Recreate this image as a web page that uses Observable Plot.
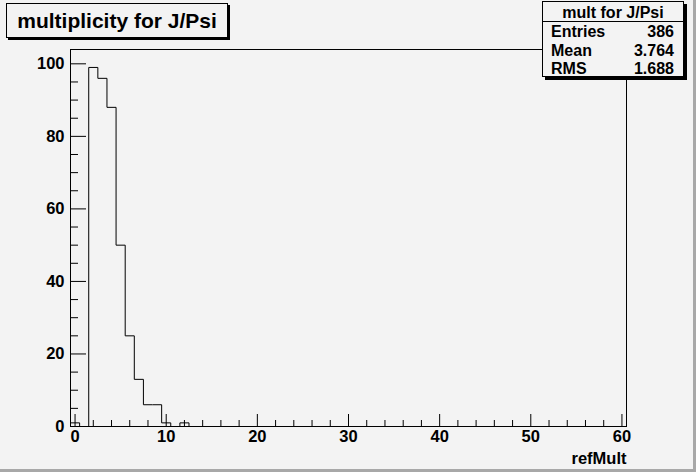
<!DOCTYPE html>
<html>
<head>
<meta charset="utf-8">
<script src="https://cdn.jsdelivr.net/npm/d3@7"></script>
<script src="https://cdn.jsdelivr.net/npm/@observablehq/plot@0.6"></script>
<style>
  html, body { margin: 0; padding: 0; background: #f3f3f3; }
  #wrap { position: relative; width: 696px; height: 472px; overflow: hidden; background: #f3f3f3;
          font-family: "Liberation Sans", Arial, sans-serif; font-weight: bold; }
  #wrap svg { position: absolute; left: 0; top: 0; background: transparent; }
  .box { position: absolute; background: #f3f3f3; border: 1px solid #000; box-sizing: border-box; }
  #title { left: 6px; top: 3px; width: 222px; height: 35px; box-shadow: 2px 2px 0 #000;
           font-size: 21px; line-height: 33px; text-align: center; }
  #stats { left: 542px; top: 1px; width: 142px; height: 76px; box-shadow: 3px 3px 0 #000; font-size: 16px; }
  #stats .hdr { height: 19px; line-height: 21px; text-align: center; border-bottom: 1px solid #000; }
  #stats .row { position: absolute; left: 8px; right: 9px; height: 19px; line-height: 19px; }
  #stats .row span:last-child { float: right; }
  #edgeR { position: absolute; left: 693px; top: 0; width: 3px; height: 472px; background: #a8a8a8; }
  #edgeB { position: absolute; left: 0; top: 469px; width: 696px; height: 3px; background: #a8a8a8; }
</style>
</head>
<body>
<div id="wrap"></div>
<script>
// Histogram bins (refMult integer bins, width 1) and their counts
const bins   = [0, 1, 2, 3, 4, 5, 6, 7, 8, 9, 10, 11, 12, 13];
const counts = [1, 0, 99, 96, 88, 50, 25, 13, 6, 6, 1, 0, 1, 0];
const xDomain = [-0.5, 60.5];
const yDomain = [0, 103.95];
const xMajor = [0, 10, 20, 30, 40, 50, 60];
const xMinor = [2, 4, 6, 8, 12, 14, 16, 18, 22, 24, 26, 28, 32, 34, 36, 38, 42, 44, 46, 48, 52, 54, 56, 58];
const yMajor = [0, 20, 40, 60, 80, 100];
const yMinor = [5, 10, 15, 25, 30, 35, 45, 50, 55, 65, 70, 75, 85, 90, 95];
const titleText = "multiplicity for J/Psi";
const xLabel = "refMult";
const statsTitle = "mult for J/Psi";
const statNames = ["Entries", "Mean", "RMS"];
const statValues = ["386", "3.764", "1.688"];

// step outline points: left edge of each bin, then close at the right edge of the range
const pts = [{x: xDomain[0], y: 0}];
bins.forEach((b, i) => pts.push({x: b - 0.5, y: counts[i]}));
pts.push({x: xDomain[1], y: 0});

const font = {fontSize: 16.5, fontWeight: "bold", fill: "#000"};

const chart = Plot.plot({
  width: 696,
  height: 472,
  marginLeft: 70,
  marginRight: 70,
  marginTop: 49,
  marginBottom: 46,
  style: {background: "transparent", fontFamily: "Liberation Sans, Arial, sans-serif", overflow: "visible"},
  x: {domain: xDomain},
  y: {domain: yDomain},
  marks: [
    Plot.line(pts, {x: "x", y: "y", curve: "step-after", stroke: "#000", strokeWidth: 1}),
    Plot.axisX({ticks: xMajor, tickSize: -12, text: null, label: null, stroke: "#000"}),
    Plot.axisX({ticks: xMinor, tickSize: -6, text: null, label: null, stroke: "#000"}),
    Plot.axisX({ticks: xMajor, tickSize: 0, tickPadding: 4, label: null, ...font}),
    Plot.axisY({ticks: yMajor, tickSize: -16, text: null, label: null, stroke: "#000"}),
    Plot.axisY({ticks: yMinor, tickSize: -8, text: null, label: null, stroke: "#000"}),
    Plot.axisY({ticks: yMajor, tickSize: 0, tickPadding: 6, label: null, ...font}),
    Plot.text([xLabel], {frameAnchor: "bottom-right", dy: 37, textAnchor: "end", ...font}),
    Plot.frame({stroke: "#000", strokeWidth: 1})
  ]
});

const wrap = document.getElementById("wrap");
wrap.appendChild(chart);

const t = document.createElement("div");
t.className = "box"; t.id = "title"; t.textContent = titleText;
wrap.appendChild(t);

const s = document.createElement("div");
s.className = "box"; s.id = "stats";
const h = document.createElement("div");
h.className = "hdr"; h.textContent = statsTitle;
s.appendChild(h);
statNames.forEach((n, i) => {
  const r = document.createElement("div");
  r.className = "row";
  r.style.top = (20 + i * 18.7) + "px";
  const a = document.createElement("span"); a.textContent = n;
  const b = document.createElement("span"); b.textContent = statValues[i];
  r.appendChild(a); r.appendChild(b);
  s.appendChild(r);
});
wrap.appendChild(s);

["edgeR", "edgeB"].forEach(id => { const e = document.createElement("div"); e.id = id; wrap.appendChild(e); });
</script>
</body>
</html>
